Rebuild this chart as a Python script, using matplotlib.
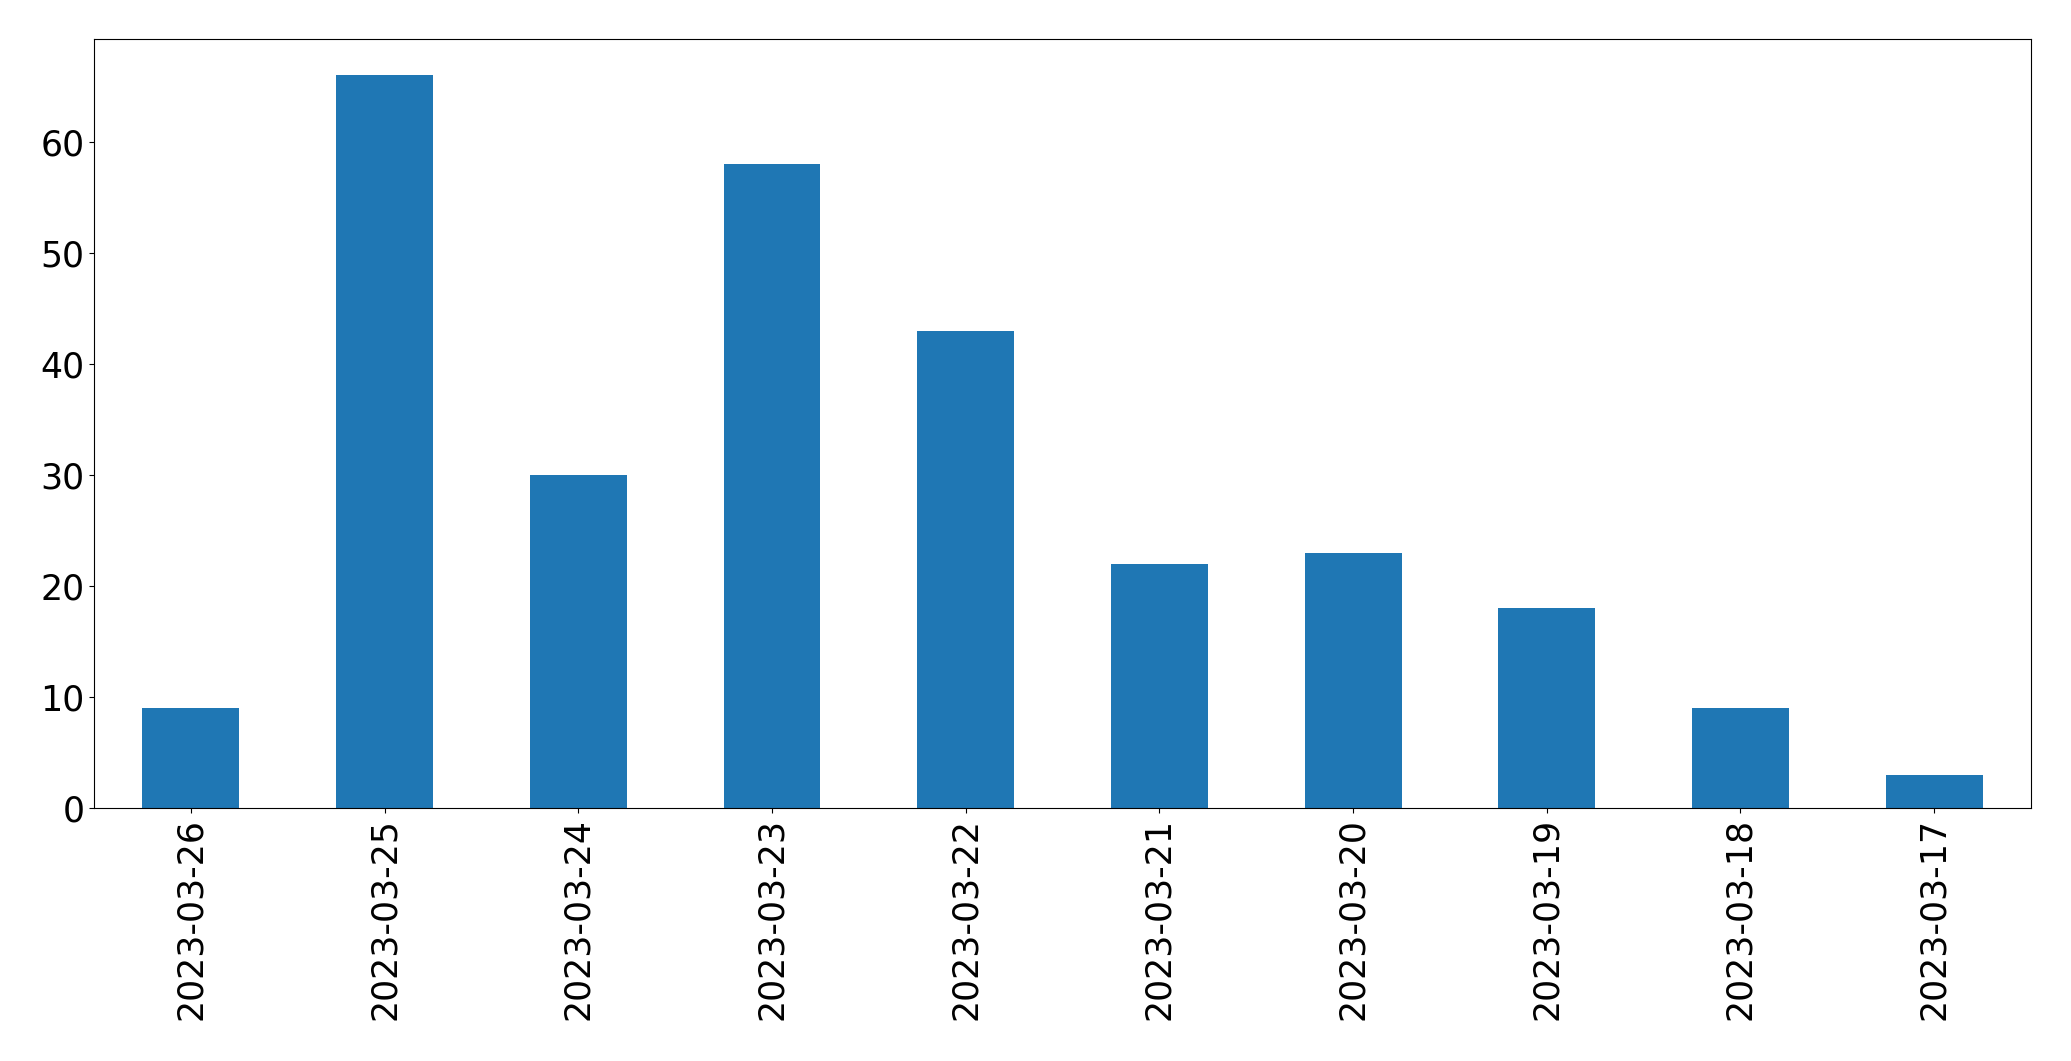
import matplotlib
matplotlib.use("Agg")
import matplotlib.pyplot as plt

dates = ["2023-03-26", "2023-03-25", "2023-03-24", "2023-03-23", "2023-03-22",
         "2023-03-21", "2023-03-20", "2023-03-19", "2023-03-18", "2023-03-17"]
counts = [9, 66, 30, 58, 43, 22, 23, 18, 9, 3]

fig, ax = plt.subplots(figsize=(20.71, 10.61), dpi=100)
fig.subplots_adjust(left=0.0454, right=0.9807, top=0.9635, bottom=0.2385)
x = range(len(dates))
ax.bar(x, counts, width=0.5, color="#1f77b4")
ax.set_xticks(list(x))
ax.set_xticklabels(dates, rotation=90)
ax.set_xlim(-0.5, len(dates) - 0.5)
ax.set_ylim(0, 69.3)
ax.tick_params(labelsize=25)
fig.savefig("out.png", dpi=100)
